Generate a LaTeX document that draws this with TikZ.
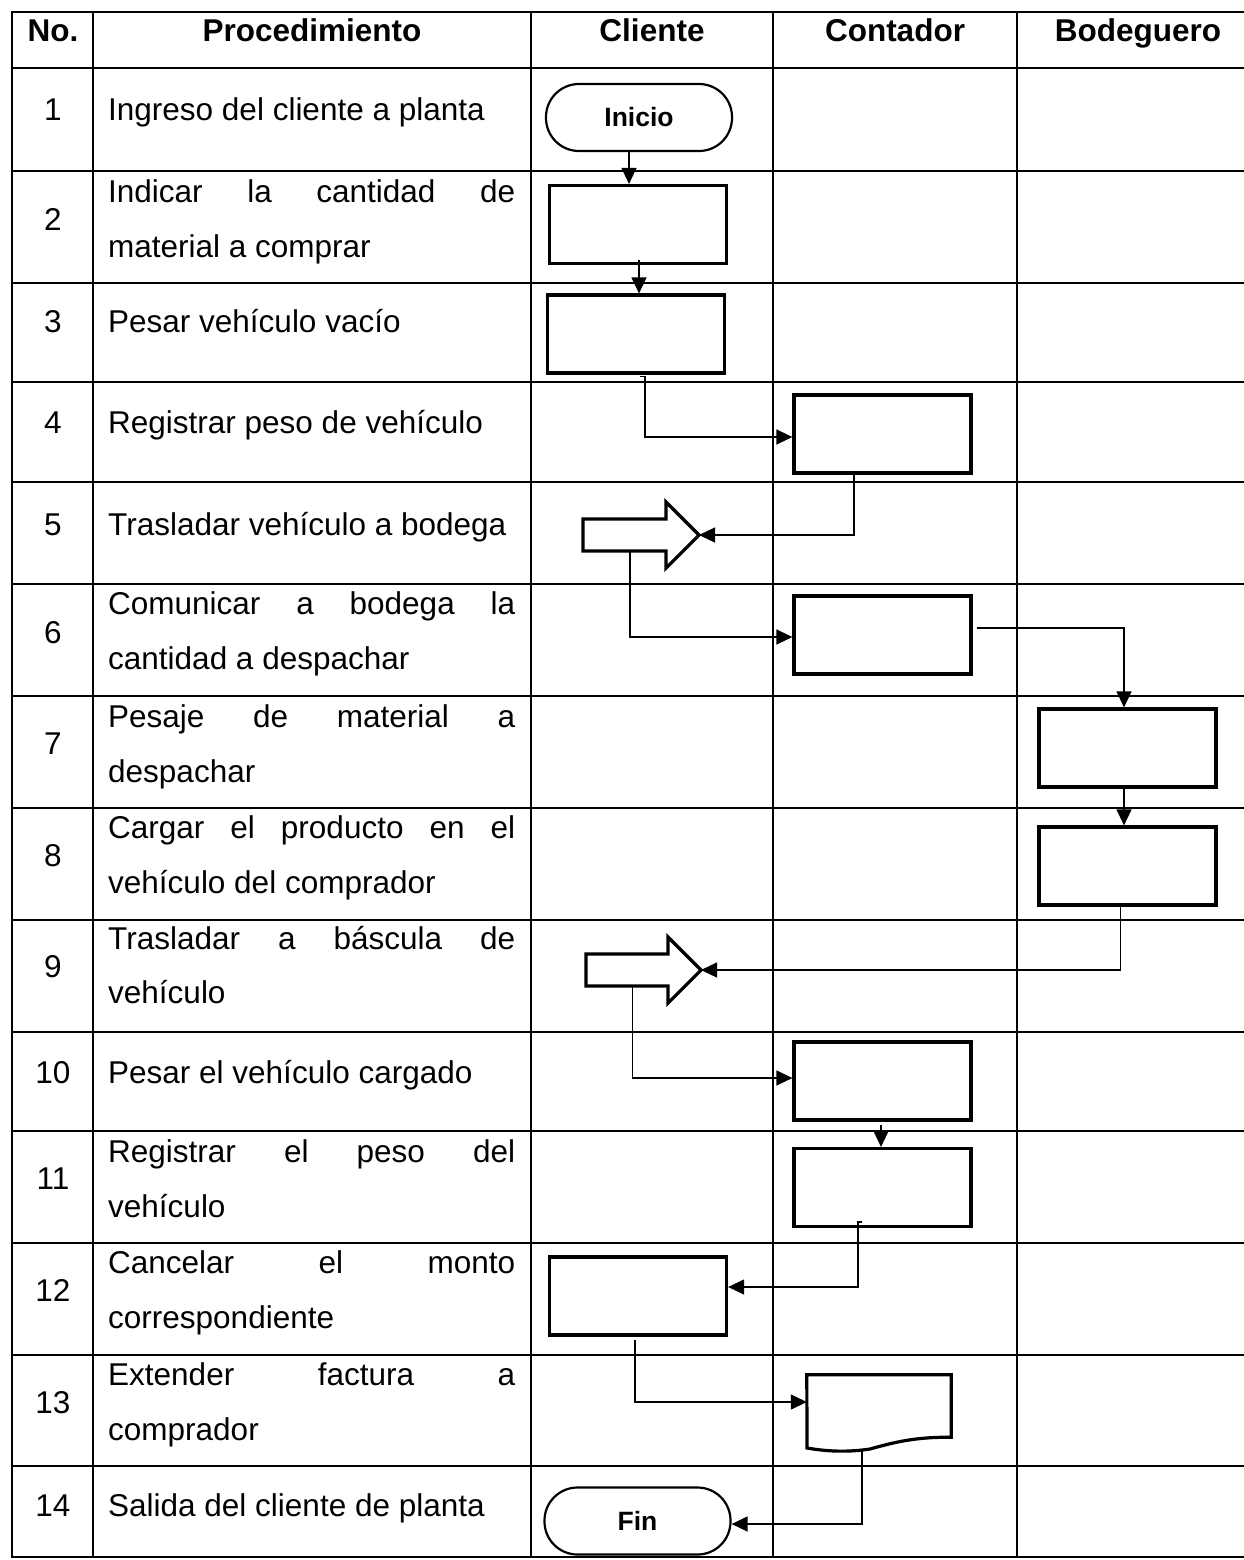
\documentclass[tikz,border=0pt]{standalone}
\usepackage{fontspec}
\setmainfont{Liberation Sans}
\usetikzlibrary{arrows.meta}

% one justified line of a two-line description cell
\newcommand\fullline[1]{\makebox[407pt][s]{#1}}

\tikzset{
  grid/.style={line width=2.8pt, line cap=rect},
  txt/.style={font=\fontsize{31.5}{55}\selectfont, inner sep=0pt},
  hdr/.style={txt, font=\bfseries\fontsize{31.5}{55}\selectfont, anchor=base},
  num/.style={txt, anchor=base},
  desc/.style={txt, anchor=base west},
  procbox/.style={draw, line width=3.2pt, minimum width=177pt, minimum height=78pt, inner sep=0pt},
  term/.style={draw, line width=2.2pt, rounded corners=33pt, minimum width=186pt,
               minimum height=67pt, inner sep=0pt, font=\bfseries\fontsize{26.5}{30}\selectfont},
  docanchor/.style={minimum width=144pt, minimum height=62pt, inner sep=0pt},
  outline/.style={line width=3.2pt, line join=miter},
  conn/.style={line width=1.3pt, -{Triangle[length=16pt,width=15pt]}},
}

\begin{document}
\begin{tikzpicture}[x=1pt, y=-1pt]
\useasboundingbox (0,0) rectangle (1243,1560);
\fill[white] (0,0) rectangle (1243,1560);

% ---------- table grid ----------
\foreach \yy in {12,68,171,283,382,482,584,696,808,920,1032,1131,1243,1355,1466,1557}
  \draw[grid] (12,\yy) -- (1243,\yy);
\foreach \xx in {12,93,531,773,1017}
  \draw[grid] (\xx,12) -- (\xx,1557);

% ---------- header ----------
\node[hdr] (hNo)   at (53,42)   {No.};
\node[hdr] (hProc) at (312,42)  {Procedimiento};
\node[hdr] (hCli)  at (652,42)  {Cliente};
\node[hdr] (hCon)  at (895,42)  {Contador};
\node[hdr] (hBod)  at (1138,42) {Bodeguero};

% ---------- step numbers ----------
\node[num] (n1)  at (53,121)  {1};
\node[num] (n2)  at (53,230)  {2};
\node[num] (n3)  at (53,332)  {3};
\node[num] (n4)  at (53,433)  {4};
\node[num] (n5)  at (53,535)  {5};
\node[num] (n6)  at (53,643)  {6};
\node[num] (n7)  at (53,754)  {7};
\node[num] (n8)  at (53,866)  {8};
\node[num] (n9)  at (53,977)  {9};
\node[num] (n10) at (53,1083) {10};
\node[num] (n11) at (53,1189) {11};
\node[num] (n12) at (53,1301) {12};
\node[num] (n13) at (53,1413) {13};
\node[num] (n14) at (53,1516) {14};

% ---------- procedure descriptions ----------
\node[desc] (p1)  at (108,121)  {Ingreso del cliente a planta};
\node[desc] (p2a) at (108,202)  {\fullline{Indicar la cantidad de}};
\node[desc] (p2b) at (108,257)  {material a comprar};
\node[desc] (p3)  at (108,332)  {Pesar vehículo vacío};
\node[desc] (p4)  at (108,433)  {Registrar peso de vehículo};
\node[desc] (p5)  at (108,535)  {Trasladar vehículo a bodega};
\node[desc] (p6a) at (108,614)  {\fullline{Comunicar a bodega la}};
\node[desc] (p6b) at (108,669)  {cantidad a despachar};
\node[desc] (p7a) at (108,727)  {\fullline{Pesaje de material a}};
\node[desc] (p7b) at (108,782)  {despachar};
\node[desc] (p8a) at (108,838)  {\fullline{Cargar el producto en el}};
\node[desc] (p8b) at (108,893)  {vehículo del comprador};
\node[desc] (p9a) at (108,949)  {\fullline{Trasladar a báscula de}};
\node[desc] (p9b) at (108,1003) {vehículo};
\node[desc] (p10) at (108,1083) {Pesar el vehículo cargado};
\node[desc] (p11a) at (108,1162) {\fullline{Registrar el peso del}};
\node[desc] (p11b) at (108,1217) {vehículo};
\node[desc] (p12a) at (108,1273) {\fullline{Cancelar el monto}};
\node[desc] (p12b) at (108,1328) {correspondiente};
\node[desc] (p13a) at (108,1385) {\fullline{Extender factura a}};
\node[desc] (p13b) at (108,1440) {comprador};
\node[desc] (p14) at (108,1516) {Salida del cliente de planta};

% ---------- flow symbols ----------
\node[term]    (ini) at (639,117.5)   {Inicio};
\node[procbox] (b2)  at (638,224.5)   {};
\node[procbox] (b3)  at (636,334)     {};
\node[procbox] (b4)  at (882.5,434)   {};
\node[procbox] (b6)  at (882.5,635)   {};
\node[procbox] (b7)  at (1127.5,748)  {};
\node[procbox] (b8)  at (1127.5,866)  {};
\node[procbox] (b10) at (882.5,1081)  {};
\node[procbox] (b11) at (882.5,1187.5){};
\node[procbox] (b12) at (638,1296)    {};
\node[term]    (fin) at (637.5,1521)  {Fin};

% transport arrows (steps 5 and 9)
\draw[outline] (583,519) -- (666,519) -- (666,502) -- (699,535) -- (666,568)
               -- (666,551) -- (583,551) -- cycle;
\coordinate (a5tip)  at (699,535);
\coordinate (a5foot) at (630,551);

\draw[outline] (586,954) -- (668,954) -- (668,937) -- (701,970) -- (668,1003)
               -- (668,986) -- (586,986) -- cycle;
\coordinate (a9tip)  at (701,970);
\coordinate (a9foot) at (632.5,986);

% document symbol (step 13)
\node[docanchor] (d13) at (879,1406) {};
\draw[outline] (d13.south east) -- (d13.north east) -- (d13.north west) -- (807,1448)
  .. controls (830,1452) and (850,1452) .. (870,1449)
  .. controls (895,1442) and (915,1437) .. (d13.south east) -- cycle;

% ---------- connectors ----------
\draw[conn] ([xshift=-10pt]ini.south) -- ([xshift=-9pt]b2.north);
\draw[conn] ([xshift=1pt,yshift=5pt]b2.south) -- ([xshift=3pt]b3.north);
\draw[conn] ([xshift=4pt,yshift=-2pt]b3.south) -- ++(5,0) |- ([yshift=-3pt]b4.west);
\draw[conn] ([xshift=-28.5pt]b4.south) |- (a5tip);
\draw[conn] (a5foot) |- ([yshift=-2pt]b6.west);
\draw[conn] ([xshift=4pt,yshift=7pt]b6.east) -| ([xshift=-3.5pt]b7.north);
\draw[conn] ([xshift=-3.5pt]b7.south) -- ([xshift=-3.5pt]b8.north);
\draw[conn] ([xshift=-7pt]b8.south) |- (a9tip);
\draw[conn] (a9foot) |- ([yshift=3pt]b10.west);
\draw[conn] ([xshift=-1.5pt,yshift=-3pt]b10.south) -- ([xshift=-1.5pt]b11.north);
\draw[conn] ([xshift=-20.5pt,yshift=6pt]b11.south) -- ++(-4,0) |- ([yshift=9pt]b12.east);
\draw[conn] ([xshift=-3pt,yshift=-3pt]b12.south) |- ([yshift=4pt]d13.west);
\draw[conn] ([xshift=-17pt,yshift=-12.5pt]d13.south) |- ([yshift=-3pt]fin.east);
\end{tikzpicture}
\end{document}
